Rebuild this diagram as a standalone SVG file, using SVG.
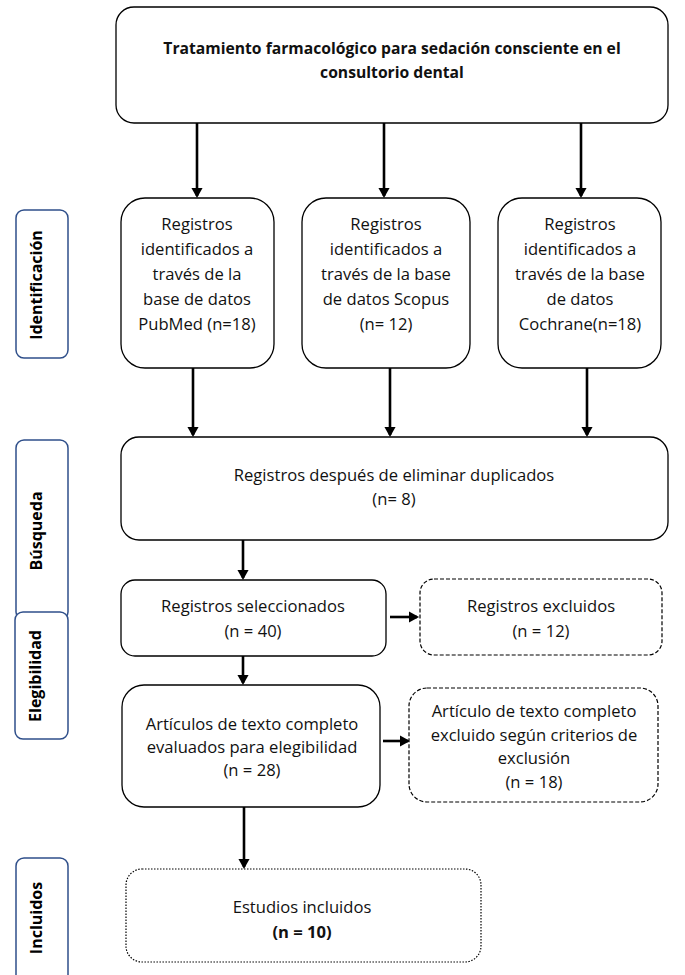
<svg xmlns="http://www.w3.org/2000/svg" width="685" height="975" viewBox="0 0 685 975">
<style>
.box{fill:#fff;stroke:#000;stroke-width:1.3}
.dash{fill:#fff;stroke:#000;stroke-width:1.2;stroke-dasharray:4 2}
.dot{fill:#fff;stroke:#000;stroke-width:1.2;stroke-dasharray:1.5 1.5}
.side{fill:#fff;stroke:#2F4F8A;stroke-width:1.5}
.t{font-family:"Open Sans",Lato,sans-serif;font-size:16.6px;fill:#111;text-anchor:middle}
.b{font-weight:bold}
.tt{font-size:15.7px}
.st{font-family:"Open Sans",Lato,sans-serif;font-size:16px;font-weight:bold;fill:#000;text-anchor:middle}
.c{stroke:#000;stroke-width:2.6;fill:none;marker-end:url(#ah)}
</style>
<defs>
<marker id="ah" markerWidth="5" markerHeight="5" refX="3.2" refY="2.5" orient="auto" markerUnits="strokeWidth" viewBox="0 0 5 5">
<path d="M0,0.3 L4,2.5 L0,4.7 Z" fill="#000"/>
</marker>
</defs>
<rect width="685" height="975" fill="#fff"/>
<g id="side-labels">
<g id="lbl-identificacion"><rect class="side" x="16" y="210" width="52" height="148" rx="8"/><text class="st" transform="translate(42,285) rotate(-90)">Identificación</text></g>
<g id="lbl-busqueda"><rect class="side" x="16" y="440" width="52" height="180" rx="8"/><text class="st" transform="translate(42,531) rotate(-90)">Búsqueda</text></g>
<g id="lbl-elegibilidad"><rect class="side" x="15" y="612" width="53" height="127" rx="8"/><text class="st" transform="translate(41,676) rotate(-90)">Elegibilidad</text></g>
<g id="lbl-incluidos"><rect class="side" x="16" y="858" width="52" height="130" rx="8"/><text class="st" transform="translate(42,918) rotate(-90)">Incluidos</text></g>
</g>
<g id="connectors">
<line class="c" x1="197" y1="123" x2="197" y2="196"/>
<line class="c" x1="384" y1="123" x2="384" y2="196"/>
<line class="c" x1="581" y1="123" x2="581" y2="196"/>
<line class="c" x1="193" y1="368" x2="193" y2="435"/>
<line class="c" x1="390" y1="368" x2="390" y2="435"/>
<line class="c" x1="587" y1="368" x2="587" y2="435"/>
<line class="c" x1="243" y1="540" x2="243" y2="578"/>
<line class="c" x1="390" y1="617" x2="417" y2="617"/>
<line class="c" x1="243" y1="656" x2="243" y2="683"/>
<line class="c" x1="383" y1="741" x2="408" y2="741"/>
<line class="c" x1="244" y1="807" x2="244" y2="867"/>
</g>
<g id="n-title"><rect class="box" x="116" y="7" width="552" height="116" rx="18"/>
<text class="t b tt" x="392" y="54">Tratamiento farmacológico para sedación consciente en el</text>
<text class="t b tt" x="392" y="78">consultorio dental</text></g>
<g id="n-pubmed"><rect class="box" x="121" y="198" width="153" height="170" rx="24"/>
<text class="t" x="197" y="230">Registros</text><text class="t" x="197" y="255">identificados a</text><text class="t" x="197" y="280">través de la</text><text class="t" x="197" y="305">base de datos</text><text class="t" x="197" y="330">PubMed (n=18)</text></g>
<g id="n-scopus"><rect class="box" x="302" y="198" width="168" height="170" rx="24"/>
<text class="t" x="386" y="230">Registros</text><text class="t" x="386" y="255">identificados a</text><text class="t" x="386" y="280">través de la base</text><text class="t" x="386" y="305">de datos Scopus</text><text class="t" x="386" y="330">(n= 12)</text></g>
<g id="n-cochrane"><rect class="box" x="498" y="198" width="163" height="170" rx="24"/>
<text class="t" x="580" y="230">Registros</text><text class="t" x="580" y="255">identificados a</text><text class="t" x="580" y="280">través de la base</text><text class="t" x="580" y="305">de datos</text><text class="t" x="580" y="330">Cochrane(n=18)</text></g>
<g id="n-duplicados"><rect class="box" x="121" y="437" width="547" height="103" rx="18"/>
<text class="t" x="394" y="481">Registros después de eliminar duplicados</text><text class="t" x="394" y="505">(n= 8)</text></g>
<g id="n-seleccionados"><rect class="box" x="121" y="580" width="265" height="76" rx="14"/>
<text class="t" x="253" y="612">Registros seleccionados</text><text class="t" x="253" y="637">(n = 40)</text></g>
<g id="n-excluidos"><rect class="dash" x="420" y="579" width="242" height="76" rx="14"/>
<text class="t" x="541" y="612">Registros excluidos</text><text class="t" x="541" y="637">(n = 12)</text></g>
<g id="n-articulos"><rect class="box" x="122" y="685" width="258" height="122" rx="22"/>
<text class="t" x="252" y="730">Artículos de texto completo</text><text class="t" x="252" y="753">evaluados para elegibilidad</text><text class="t" x="252" y="776">(n = 28)</text></g>
<g id="n-art-excluido"><rect class="dash" x="409" y="688" width="249" height="114" rx="18"/>
<text class="t" x="534" y="717">Artículo de texto completo</text><text class="t" x="534" y="741">excluido según criterios de</text><text class="t" x="534" y="764">exclusión</text><text class="t" x="534" y="788">(n = 18)</text></g>
<g id="n-incluidos"><rect class="dot" x="126" y="869" width="355" height="93" rx="16"/>
<text class="t" x="302" y="913">Estudios incluidos</text><text class="t b" x="302" y="938">(n = 10)</text></g>
</svg>
